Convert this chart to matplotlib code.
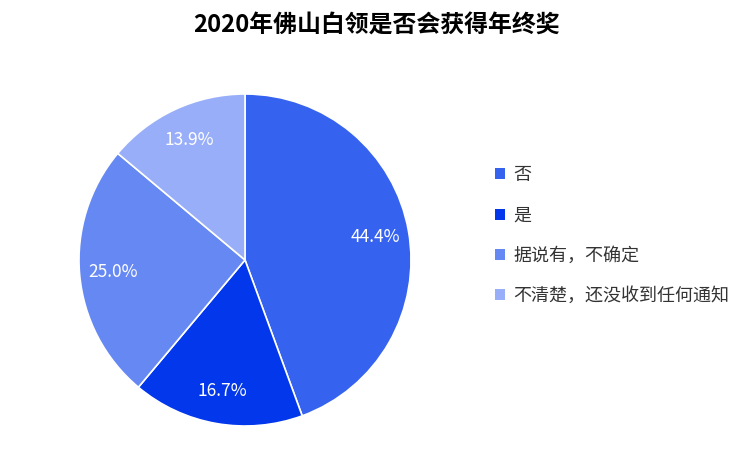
import matplotlib
matplotlib.use("Agg")
import matplotlib.pyplot as plt
from matplotlib.patches import Patch

plt.rcParams['font.family'] = ['Noto Sans CJK SC', 'DejaVu Sans']

title = "2020年佛山白领是否会获得年终奖"
categories = ["否", "是", "据说有，不确定", "不清楚，还没收到任何通知"]
values = [44.4, 16.7, 25.0, 13.9]
colors = ['#3662F0', '#0237EB', '#6688F2', '#99AEF8']

W, H = 740, 449
fig = plt.figure(figsize=(W / 100, H / 100), dpi=100)
cx, cy, r = 245, 260, 166
ax = fig.add_axes([(cx - r) / W, (H - cy - r) / H, 2 * r / W, 2 * r / H])
wedges, texts, autotexts = ax.pie(
    values, colors=colors, startangle=90, counterclock=False,
    autopct='%.1f%%', pctdistance=0.8, radius=1,
    wedgeprops=dict(edgecolor='white', linewidth=1.2),
    textprops=dict(color='white', fontsize=12.5))
ax.set_xlim(-1, 1)
ax.set_ylim(-1, 1)
ax.axis('off')

fig.text(377 / W, 1 - 26 / H, title, ha='center', va='center',
         fontsize=17.2, fontweight='bold', color='black')

handles = [Patch(facecolor=c, edgecolor='none') for c in colors]
fig.legend(handles, categories, loc='upper left',
           bbox_to_anchor=(479 / W, 1 - 150 / H), frameon=False,
           fontsize=13, handlelength=0.55, handleheight=0.55,
           handletextpad=0.45, labelspacing=1.23, labelcolor='#333333')

fig.savefig('out.png', dpi=100)
